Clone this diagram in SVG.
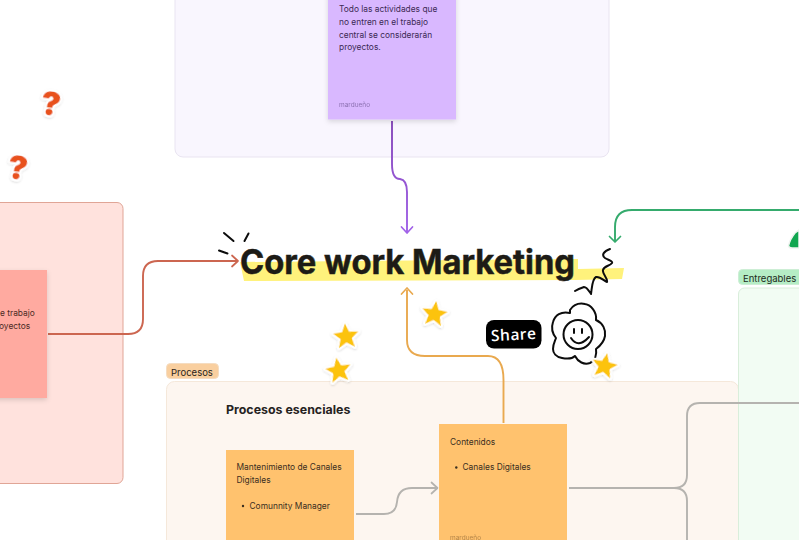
<svg xmlns="http://www.w3.org/2000/svg" width="799" height="540" viewBox="0 0 799 540">
<style>
text{font-family:Inter,"Liberation Sans",sans-serif}
.body{font-size:8.4px;fill:#3a2e1f}
.sign{font-size:6.5px;opacity:.55}
.conn{fill:none;stroke-width:1.9}
.head{fill:none;stroke-width:1.7;stroke-linecap:round;stroke-linejoin:round}
.ink{fill:none;stroke:#0c0c0c;stroke-linecap:round;stroke-linejoin:round}
.star{fill:#fcc30c;stroke:#fff;stroke-width:4;stroke-linejoin:round;paint-order:stroke;filter:url(#ss)}
.q{font-size:33px;font-weight:900;fill:#e8511f;stroke:#fff;stroke-width:4px;paint-order:stroke;stroke-linejoin:round;filter:url(#ss)}
</style>
<defs>
<filter id="sh" x="-15%" y="-15%" width="130%" height="130%"><feDropShadow dx="0" dy="2" stdDeviation="2.5" flood-color="#000" flood-opacity=".14"/></filter>
<filter id="ss" x="-30%" y="-30%" width="160%" height="160%"><feDropShadow dx="0" dy="1" stdDeviation="1" flood-color="#000" flood-opacity=".16"/></filter>
<linearGradient id="pg" gradientUnits="userSpaceOnUse" x1="0" y1="121" x2="0" y2="232"><stop offset="0" stop-color="#8547b8"/><stop offset="1" stop-color="#a162e8"/></linearGradient>
<polygon id="st" points="0,-13 3.6,-4.4 12.8,-3.9 5.7,2 8,11 0,6 -8,11 -5.7,2 -12.8,-3.9 -3.6,-4.4"/>
</defs>
<rect width="799" height="540" fill="#fff"/>

<g id="panel-proyectos"><rect x="175" y="-60" width="434" height="217" rx="8" fill="#f9f6fe" stroke="#e9e4f1"/></g>
<g id="panel-rojo"><rect x="-60" y="202.500" width="183" height="281" rx="6" fill="#ffe2dd" stroke="#e0a596"/></g>
<g id="panel-procesos"><rect x="166.500" y="381.500" width="572" height="200" rx="8" fill="#fdf6f0" stroke="#f5e8da"/></g>
<g id="panel-entregables"><rect x="738.500" y="288" width="100" height="290" rx="6" fill="#f2fcf3" stroke="#d9eedb"/></g>

<g id="connectors">
<path class="conn" stroke="url(#pg)" d="M392 121V164Q392 179 400 179Q407 180 407 192V232"/>
<path class="head" stroke="#a162e8" d="M401.500 227L407 233L412.500 227"/>
<path class="conn" stroke="#cc6650" d="M48 334H128Q143 334 143 319V276Q143 261 158 261H237"/>
<path class="head" stroke="#cc6650" d="M232 255.500L238 261L232 266.500"/>
<path class="conn" stroke="#e9a94f" d="M503.500 423V380Q503.500 356 488 356H425Q407 356 407 340V290"/>
<path class="head" stroke="#e9a94f" d="M401.500 294L407 288L412.500 294"/>
<path class="conn" stroke="#35ab6d" d="M799 210H632Q615 210 615 227V241"/>
<path class="head" stroke="#35ab6d" d="M609.500 236.500L615 242L620.500 236.500"/>
<path class="conn" stroke="#b5b3af" d="M356 514H384Q396 514 397 502Q398 488 412 488H437"/>
<path class="head" stroke="#b5b3af" d="M431.500 482.500L437.500 488L431.500 493.500"/>
<path class="conn" stroke="#b5b3af" d="M569 488H674Q687 488 687 475V416Q687 403 700 403H799"/>
<path class="conn" stroke="#b5b3af" d="M674 488Q687 488 687 501V540"/>
</g>

<g id="note-proyectos">
<rect x="328" y="-30" width="128" height="149.500" fill="#d9b8ff" filter="url(#sh)"/>
<text class="body" style="fill:#3c2a55"><tspan x="339" y="11.500">Todo las actividades que</tspan><tspan x="339" y="24.500">no entren en el trabajo</tspan><tspan x="339" y="37.500">central se considerarán</tspan><tspan x="339" y="50">proyectos.</tspan></text>
<text class="sign" x="339" y="106.500" style="fill:#4a3470">mardueño</text>
</g>

<g id="note-rojo">
<rect x="-60" y="270" width="107" height="128" fill="#ffaaa0" filter="url(#sh)"/>
<text class="body" style="fill:#4d2a25"><tspan x="0" y="316">e trabajo</tspan><tspan x="-1" y="329">oyectos</tspan></text>
</g>

<g id="label-procesos"><rect x="166.500" y="363.500" width="52" height="15" rx="4" fill="#f9cf9f" stroke="#f5dcc0"/><text x="171" y="375.500" font-size="9.500" fill="#2a2419">Procesos</text></g>
<text x="226" y="414" font-size="12.400" font-weight="700" fill="#26231f">Procesos esenciales</text>

<g id="note-mantenimiento">
<rect x="226" y="450" width="128" height="110" fill="#ffc26e"/>
<text class="body"><tspan x="236.500" y="470">Mantenimiento de Canales</tspan><tspan x="236.500" y="483">Digitales</tspan></text>
<circle cx="243" cy="506" r="1.200" fill="#3a2e1f"/>
<text class="body" x="249.500" y="509">Comunnity Manager</text>
</g>

<g id="note-contenidos">
<rect x="439" y="424" width="128" height="130" fill="#ffc26e"/>
<text class="body" x="450" y="444.500">Contenidos</text>
<circle cx="456.300" cy="467.500" r="1.200" fill="#3a2e1f"/>
<text class="body" x="462.500" y="470">Canales Digitales</text>
<text class="sign" x="450" y="539.500" style="fill:#75522a">mardueño</text>
</g>

<g id="label-entregables"><rect x="738.500" y="269.500" width="70" height="15" rx="4" fill="#b5edc5" stroke="#cdeed5"/><text x="743" y="281.500" font-size="9.500" fill="#1c2a20">Entregables</text></g>
<path id="sticker-verde" d="M799 230L795 233Q790 239 788.500 246Q789 248 792 248H799Z" fill="#11a650" stroke="#eef3ef" stroke-width="1.500"/>

<g id="title">
<path d="M240 262L578 259L578 269L624 268L622 279L575 280L244 281Z" fill="#fff27c"/>
<text x="240" y="274" font-size="33.500" font-weight="700" fill="#1d1b16" stroke="#1d1b16" stroke-width=".5" textLength="335" lengthAdjust="spacingAndGlyphs">Core work Marketing</text>
</g>

<g id="decor">
<path class="ink" stroke-width="2" d="M224 233L233.500 241M244.500 241L248.500 233.500M219 250.500L227.500 253.500"/>
<path class="ink" stroke-width="2" d="M610 249C604 251 601 255 605 258C608 260 613 261 612 263C610 266 604 266 603 270C602 274 608 278 607 282C604 281 600 276 596 277C592 279 592 288 591 294C589 291 587 287 584 287C581 288 578 289 575 291"/>
<g id="share"><rect x="486" y="320" width="55.500" height="28.500" rx="8" fill="#000"/><text x="491" y="340" font-size="15.500" font-weight="600" fill="#fff" textLength="45" style="font-family:'Open Sans',sans-serif" transform="rotate(-3 513 335)">Share</text></g>
<g id="flower">
<path class="ink" stroke-width="2" d="M570 310C574 304 580 303 585 304C591 305 597 312 596 320C603 323 606 330 605 336C604 342 600 346 596 349C597 355 595 361 590 363C584 365 578 362 575 356C572 359 567 359 562 358C556 357 553 353 553 349C553 344 555 341 556 338C552 333 551 328 553 322C555 315 561 311 570 313Z"/>
<circle class="ink" stroke-width="2" cx="578" cy="334.500" r="14.500"/>
<path class="ink" stroke-width="2" d="M571 338Q578 349 589 337M574 329V333M582 329V333"/>
</g>
<use href="#st" class="star" transform="translate(604.500 366) rotate(12)"/>
<use href="#st" class="star" transform="translate(434.500 314) rotate(8)"/>
<use href="#st" class="star" transform="translate(346 336.500) rotate(-5)"/>
<use href="#st" class="star" transform="translate(338.500 370.500) rotate(-10)"/>
<text class="q" transform="translate(39.500 114) rotate(8)">?</text>
<text class="q" transform="translate(6.500 178) rotate(8)">?</text>
</g>
</svg>
